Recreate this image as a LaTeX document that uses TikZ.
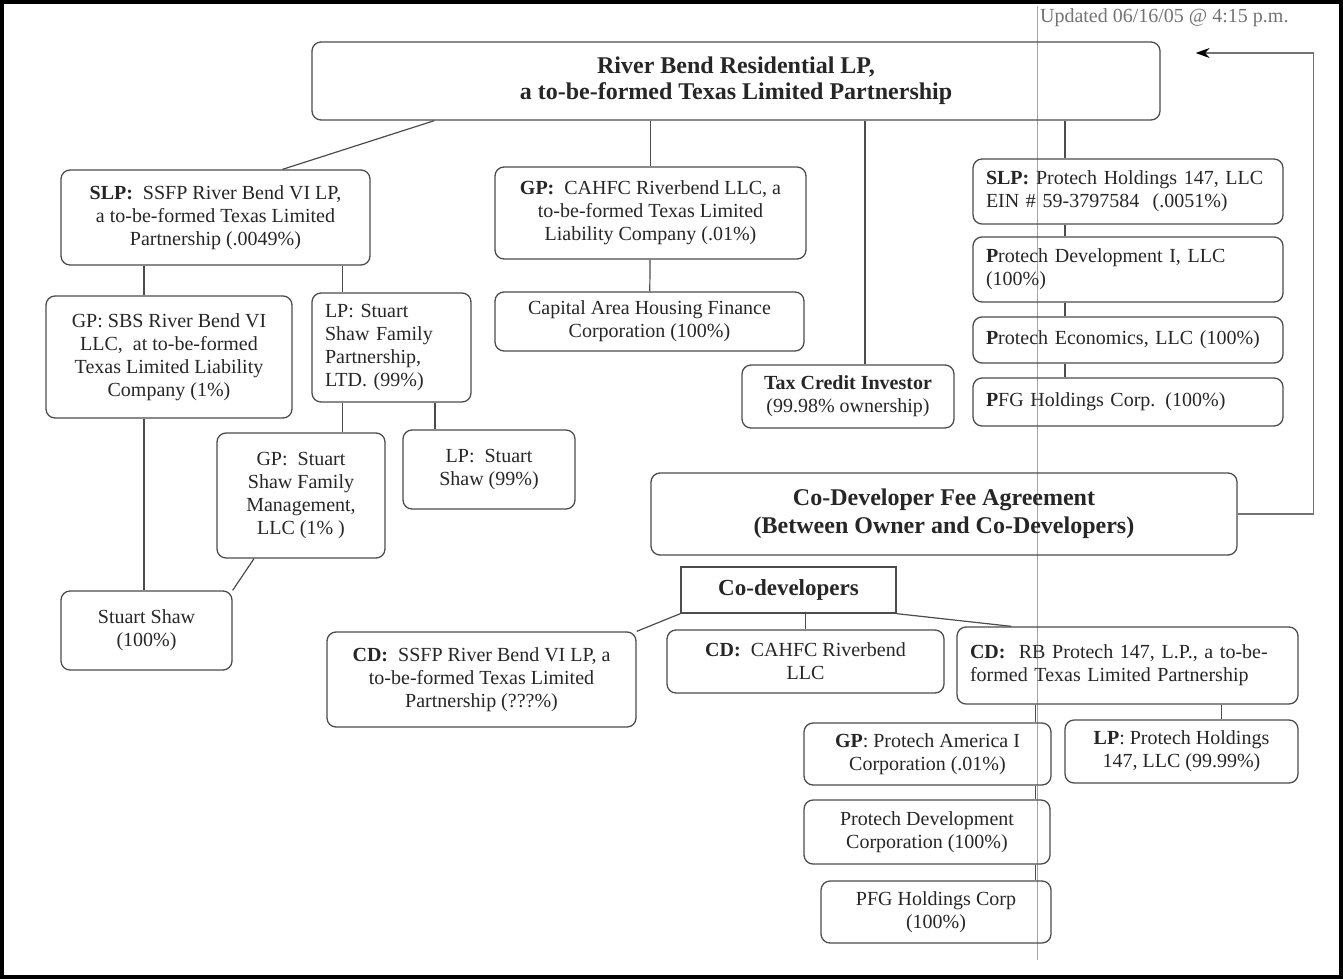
\documentclass[tikz,border=0pt]{standalone}
\usepackage{fontspec}
\setmainfont{Liberation Serif}
\usetikzlibrary{arrows.meta,calc}

\begin{document}
\begin{tikzpicture}[x=1pt,y=-1pt,>={Stealth[length=14pt,width=10pt,black]},
  every node/.style={text=black!85,font=\fontsize{20}{23}\selectfont},
  entity/.style 2 args={draw=black!70,line width=1.3pt,rounded corners=9pt,
    align=center,inner sep=0pt,minimum width=#1,minimum height=#2},
  lentity/.style 2 args={entity={0}{#2},text width=#1,inner xsep=13pt,align=left},
  heading/.style={font=\bfseries\fontsize{24}{26}\selectfont},
  link/.style={draw=black!70,line width=1.2pt}]

\useasboundingbox (0,0) rectangle (1343,979);
\draw[line width=4pt] (2,2) rectangle (1341,977);
\draw[black!35,line width=1pt] (1037,6) -- (1037,960);

\node[text=black!55,anchor=east] (stamp) at (1292,18) {Updated 06/16/05 @ 4:15 p.m.};

% owner
\node[entity={848}{78},heading] (title) at (736,81)
  {River Bend Residential LP,\\ a to-be-formed Texas Limited Partnership};

% partners
\node[entity={309}{95}] (slpA) at (215.5,217.5)
  {\textbf{SLP:}~ SSFP River Bend VI LP,\\ a to-be-formed Texas Limited\\ Partnership (.0049\%)};
\node[entity={311}{92}] (gpCahfc) at (650.5,213)
  {\textbf{GP:}~ CAHFC Riverbend LLC, a\\ to-be-formed Texas Limited\\ Liability Company (.01\%)};
\node[entity={309}{59}] (capital) at (649.5,321.5)
  {Capital Area Housing Finance\\ Corporation (100\%)};
\node[entity={212}{63}] (taxcredit) at (848,396.5)
  {\textbf{Tax Credit Investor}\\ (99.98\% ownership)};
\node[lentity={284}{65}] (slpProtech) at (1128,191.5)
  {\textbf{SLP:} Protech Holdings 147, LLC\\ EIN \# 59-3797584~ (.0051\%)};
\node[lentity={284}{65}] (devI) at (1128,269.5)
  {\textbf{P}rotech Development I, LLC\\ (100\%)};
\node[lentity={284}{46}] (econ) at (1128,340)
  {\textbf{P}rotech Economics, LLC (100\%)};
\node[lentity={284}{48}] (pfgTop) at (1128,402)
  {\textbf{P}FG Holdings Corp. (100\%)};

% stuart shaw side
\node[entity={246}{122}] (gpSbs) at (169,357)
  {GP: SBS River Bend VI\\ LLC,~ at to-be-formed\\ Texas Limited Liability\\ Company (1\%)};
\node[lentity={133}{109}] (lpFamily) at (391.5,347.5)
  {LP: Stuart\\ Shaw Family\\ Partnership,\\ LTD. (99\%)};
\node[entity={168}{125}] (gpMgmt) at (301,495.5)
  {GP:~ Stuart\\ Shaw Family\\ Management,\\ LLC (1\% )};
\node[entity={172}{79}] (lpShaw) at (489,469.5) {LP:~ Stuart\\ Shaw (99\%)};
\node[entity={171}{79}] (stuart) at (146.5,630.5) {Stuart Shaw\\ (100\%)};

% co-developers
\node[entity={586}{82},heading,font=\bfseries\fontsize{24}{28}\selectfont] (codevfee) at (944,514)
  {Co-Developer Fee Agreement\\ (Between Owner and Co-Developers)};
\node[entity={215}{46},sharp corners,font=\bfseries\fontsize{23}{26}\selectfont] (codevs) at (788.5,590)
  {Co-developers};
\node[entity={309}{95}] (cdSsfp) at (481.5,679.5)
  {\textbf{CD:}~ SSFP River Bend VI LP, a\\ to-be-formed Texas Limited\\ Partnership (???\%)};
\node[entity={277}{63}] (cdCahfc) at (805.5,661.5) {\textbf{CD:}~ CAHFC Riverbend\\ LLC};
\node[lentity={315}{77}] (cdRb) at (1127.5,665.5)
  {\textbf{CD:}~ RB Protech 147, L.P., a to-be-\\ formed Texas Limited Partnership};
\node[entity={247}{62}] (gpAmerica) at (927.5,754) {\textbf{GP}: Protech America I\\ Corporation (.01\%)};
\node[entity={233}{63}] (lpHoldings) at (1181.5,751.5) {\textbf{LP}: Protech Holdings\\ 147, LLC (99.99\%)};
\node[entity={246}{64}] (devCorp) at (927,832) {Protech Development\\ Corporation (100\%)};
\node[entity={230}{62}] (pfgBottom) at (936,912) {PFG Holdings Corp\\ (100\%)};

% owner to partners
\draw[link] ($(title.south west)+(123,0)$) -- ($(slpA.north)+(67,0)$);
\draw[link] (gpCahfc.north |- title.south) -- (gpCahfc.north);
\path[link] (gpCahfc) edge (capital);
\coordinate (tcx) at ($(taxcredit.north)+(17,0)$);
\draw[link] (tcx |- title.south) -- (tcx);
\coordinate (ptx) at ($(slpProtech.north)+(-63,0)$);
\draw[link] (ptx |- title.south) -- (ptx);
\foreach \a/\b in {slpProtech/devI, devI/econ, econ/pfgTop}
  \draw[link] (ptx |- \a.south) -- (ptx |- \b.north);

% stuart shaw side
\coordinate (sbsx) at ($(gpSbs.north)+(-25,0)$);
\draw[link] (sbsx |- slpA.south) -- (sbsx);
\draw[link] (sbsx |- gpSbs.south) -- (sbsx |- stuart.north);
\coordinate (famx) at ($(lpFamily.north)+(-49,0)$);
\draw[link] (famx |- slpA.south) -- (famx);
\draw[link] (famx |- lpFamily.south) -- (famx |- gpMgmt.north);
\coordinate (shx) at ($(lpShaw.north)+(-54,0)$);
\draw[link] (shx |- lpFamily.south) -- (shx);
\draw[link] ($(gpMgmt.south)+(-47,0)$) -- (stuart.north east);

% co-developers
\draw[link] (codevs.south west) -- (cdSsfp.north east);
\draw[link] (cdCahfc.north) -- (cdCahfc.north |- codevs.south);
\draw[link] (codevs.south east) -- ($(cdRb.north west)+(55,0)$);
\coordinate (rbx) at ($(gpAmerica.north east)+(-16,0)$);
\foreach \a/\b in {cdRb/gpAmerica, gpAmerica/devCorp, devCorp/pfgBottom}
  \draw[link] (rbx |- \a.south) -- (rbx |- \b.north);
\coordinate (lhx) at ($(lpHoldings.north)+(40,0)$);
\draw[link] (lhx |- cdRb.south) -- (lhx);

% agreement back to owner
\draw[link,draw=black!55,->] (codevfee.east) -- ++(76,0) |- ($(title.east)+(35,-28)$);

\end{tikzpicture}
\end{document}
